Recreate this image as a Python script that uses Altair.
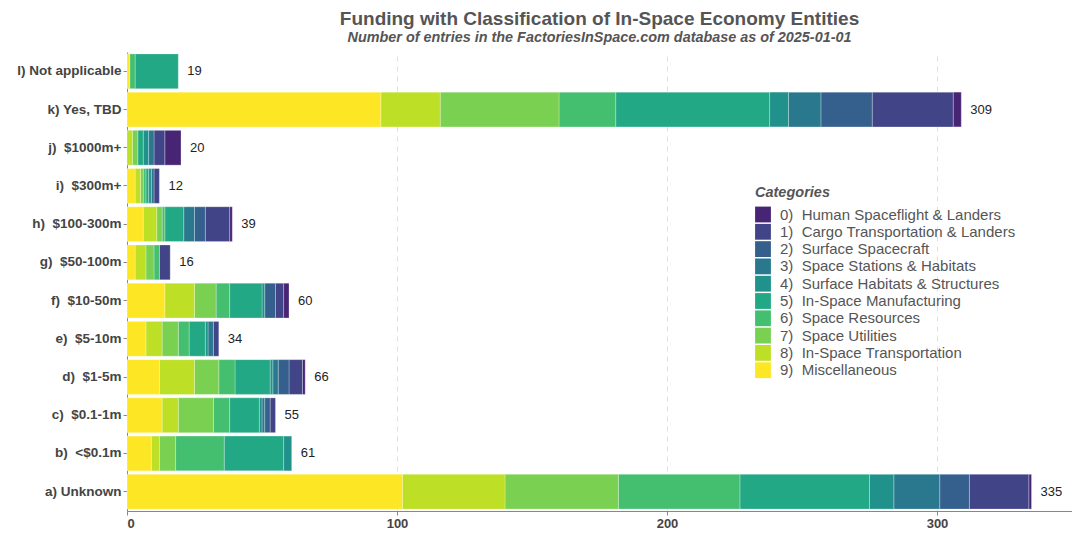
import altair as alt
import pandas as pd

NB = "\u00a0"
levels = ["a) Unknown", "b)" + NB + " <$0.1m", "c)" + NB + " $0.1-1m", "d)" + NB + " $1-5m",
          "e)" + NB + " $5-10m", "f)" + NB + " $10-50m", "g)" + NB + " $50-100m",
          "h)" + NB + " $100-300m", "i)" + NB + " $300m+", "j)" + NB + " $1000m+",
          "k) Yes, TBD", "l) Not applicable"]

categories = ["0)" + NB + " Human Spaceflight & Landers", "1)" + NB + " Cargo Transportation & Landers",
              "2)" + NB + " Surface Spacecraft", "3)" + NB + " Space Stations & Habitats",
              "4)" + NB + " Surface Habitats & Structures", "5)" + NB + " In-Space Manufacturing",
              "6)" + NB + " Space Resources", "7)" + NB + " Space Utilities",
              "8)" + NB + " In-Space Transportation", "9)" + NB + " Miscellaneous"]

# counts per category, in order of levels a..l
cat0 = [1, 0, 0, 1, 0, 2, 0, 1, 0, 6, 3, 0]
cat1 = [22, 0, 2, 5, 2, 3, 4, 9, 2, 4, 30, 0]
cat2 = [11, 0, 2, 4, 0, 4, 0, 4, 0, 0, 19, 0]
cat3 = [17, 0, 1, 2, 2, 0, 0, 4, 1, 2, 12, 0]
cat4 = [9, 3, 1, 1, 1, 1, 0, 0, 1, 2, 7, 0]
cat5 = [48, 22, 11, 13, 6, 12, 0, 7, 1, 2, 57, 16]
cat6 = [45, 18, 6, 6, 4, 5, 2, 1, 1, 0, 21, 2]
cat7 = [42, 6, 13, 9, 6, 8, 3, 2, 1, 2, 44, 0]
cat8 = [38, 3, 6, 13, 6, 11, 4, 5, 2, 2, 22, 0]
cat9 = [102, 9, 13, 12, 7, 14, 3, 6, 3, 0, 94, 1]
series = [cat0, cat1, cat2, cat3, cat4, cat5, cat6, cat7, cat8, cat9]

colors = ["#482475", "#414487", "#355f8d", "#2a788e", "#21918c",
          "#22a884", "#44bf70", "#7ad151", "#bddf26", "#fde725"]

rows = []
for ci, vals in enumerate(series):
    for li, v in enumerate(vals):
        if v > 0:
            rows.append({"level": levels[li], "category": categories[ci], "idx": ci, "count": v})
df = pd.DataFrame(rows)

font = "Liberation Sans"
axis_col = "#9c8463"

y_enc = alt.Y("level:N", sort=levels[::-1], title=None,
              scale=alt.Scale(paddingInner=0.09, paddingOuter=0.05),
              axis=alt.Axis(labelFont=font, labelFontSize=13.5, labelFontWeight="bold",
                            labelColor="#444444", labelPadding=2, tickSize=4,
                            tickColor=axis_col, domainColor=axis_col, grid=False))

bars = alt.Chart(df).mark_bar(stroke="white", strokeWidth=0.6, strokeOpacity=0.45).encode(
    x=alt.X("count:Q", stack="zero", title=None,
            scale=alt.Scale(domain=[0, 350], nice=False),
            axis=alt.Axis(values=[0, 100, 200, 300], labelFont=font, labelFontSize=13,
                          labelFontWeight="bold", labelColor="#444444", tickSize=4,
                          tickColor=axis_col, domainColor=axis_col, grid=True,
                          gridColor="#ecdcd6", gridDash=[5, 5], gridWidth=1)),
    y=y_enc,
    color=alt.Color("category:N", scale=alt.Scale(domain=categories, range=colors),
                    legend=alt.Legend(title="Categories", orient="none", legendX=628, legendY=134,
                                      titleFont=font, titleFontSize=14.5, titleFontStyle="italic",
                                      titleFontWeight="bold", titleColor="#555555",
                                      labelFont=font, labelFontSize=15, labelColor="#555555",
                                      labelLimit=0, labelOffset=9,
                                      symbolType="square", symbolSize=250, symbolStrokeWidth=0,
                                      symbolOpacity=1, rowPadding=1.3, titlePadding=6)),
    order=alt.Order("idx:Q", sort="descending"),
)

totals = alt.Chart(df).mark_text(align="left", baseline="middle", dx=9, font=font,
                                  fontSize=13, color="#222222").encode(
    x=alt.X("sum(count):Q"),
    y=alt.Y("level:N", sort=levels[::-1]),
    text=alt.Text("sum(count):Q"),
)

chart = alt.layer(bars, totals).properties(
    width=945, height=459,
    padding={"left": 119, "top": 44, "right": 0, "bottom": 20},
    autosize=alt.AutoSizeParams(type="none"),
    title=alt.Title("Funding with Classification of In-Space Economy Entities",
                    subtitle="Number of entries in the FactoriesInSpace.com database as of 2025-01-01",
                    font=font, fontSize=19, fontWeight="bold", color="#555555",
                    subtitleFont=font, subtitleFontSize=14.4, subtitleFontStyle="italic",
                    subtitleFontWeight="bold", subtitleColor="#555555", offset=8,
                    subtitlePadding=2, anchor="middle"),
).configure_view(stroke=None)

chart.save("out.html", embed_options={"renderer": "svg", "actions": False})
